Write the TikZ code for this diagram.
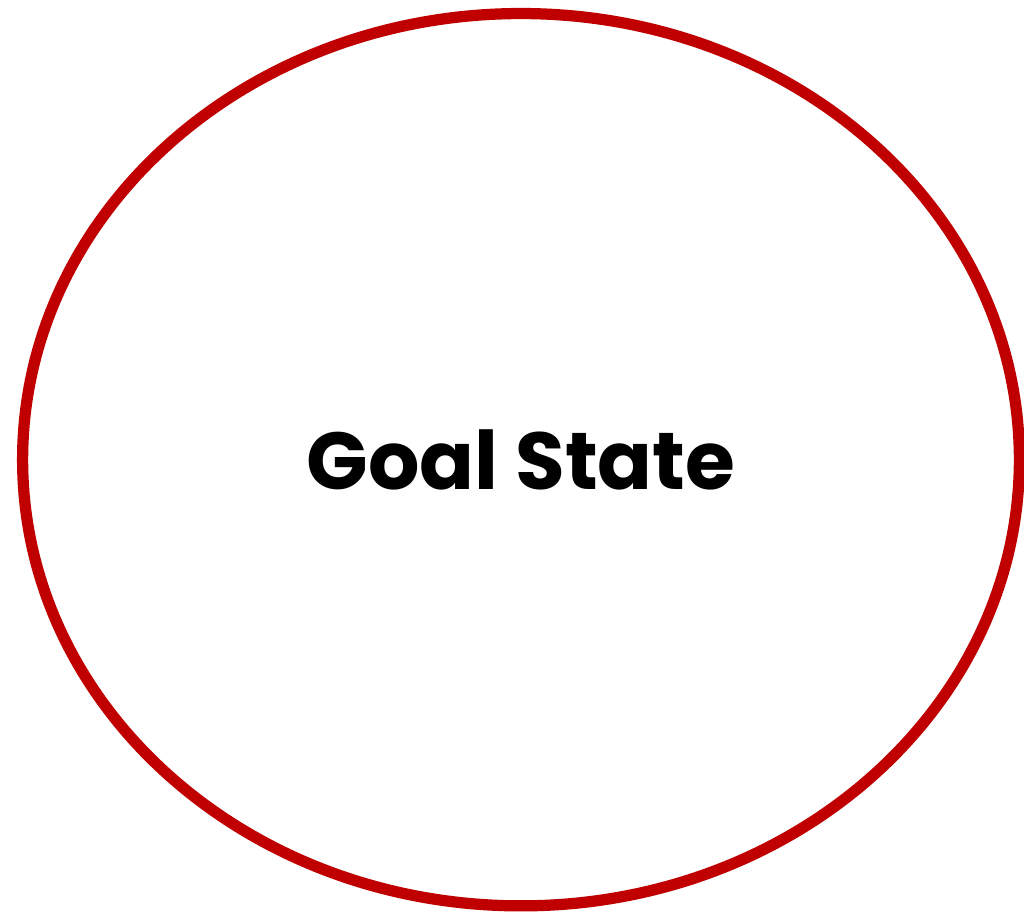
\documentclass[tikz,border=0pt]{standalone}
\usepackage{fontspec}
\usepackage{xcolor}
\usepackage{tikz}
\usetikzlibrary{shapes.geometric}
\newfontfamily\goalfont{Poppins}
\definecolor{goalred}{RGB}{192,0,0}

\begin{document}
\begin{tikzpicture}[
  x=0.02cm, y=-0.02cm,
  goal/.style={ellipse, draw=goalred, line width=6.4pt, fill=white, minimum width=19.94cm, minimum height=17.85cm, inner sep=0pt, font=\goalfont\bfseries\fontsize{46}{54}\selectfont, text=black}
]
\useasboundingbox (0,0) rectangle (1024,912);
\node[goal] (goalstate) at (521,459.7) {Goal State};
\end{tikzpicture}
\end{document}
